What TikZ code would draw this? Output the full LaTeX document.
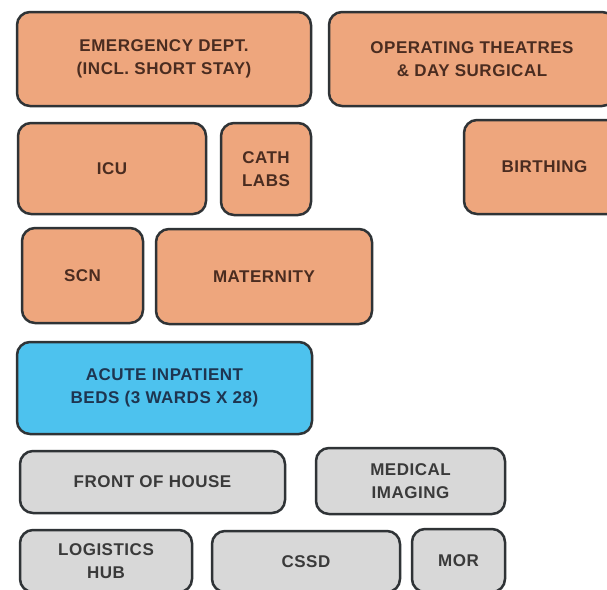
\documentclass[tikz,border=0pt]{standalone}
\usepackage{fontspec}
\newfontfamily\labfont[LetterSpace=3]{Liberation Sans}
\definecolor{orangefill}{HTML}{EEA67D}
\definecolor{bluefill}{HTML}{4DC2EE}
\definecolor{greyfill}{HTML}{D8D8D8}
\definecolor{edgecol}{HTML}{2F3336}
\definecolor{browntext}{HTML}{4A2C20}
\definecolor{navytext}{HTML}{1E3550}
\definecolor{greytext}{HTML}{3A3A3A}
\tikzset{
  box/.style={rectangle, rounded corners=13pt, draw=edgecol, line width=2.5pt,
    inner sep=0pt, align=center, font=\labfont\bfseries\fontsize{17}{23.5}\selectfont},
  obox/.style={box, fill=orangefill, text=browntext},
  bbox/.style={box, fill=bluefill, text=navytext},
  gbox/.style={box, fill=greyfill, text=greytext}
}
\begin{document}
\begin{tikzpicture}[x=1pt,y=-1pt]
\useasboundingbox (0,0) rectangle (607,589);
\fill[white] (0,0) rectangle (607,589);
\clip (0,0) rectangle (607,589);
\node[obox, minimum width=294pt, minimum height=94pt] (ed) at (164,59) {EMERGENCY DEPT.\\(INCL. SHORT STAY)};
\node[obox, minimum width=286pt, minimum height=94pt] (ot) at (472,59) {OPERATING THEATRES\\\& DAY SURGICAL};
\node[obox, minimum width=188pt, minimum height=91pt] (icu) at (112,168.5) {ICU};
\node[obox, minimum width=90pt, minimum height=92pt] (cath) at (266,169) {CATH\\LABS};
\node[obox, minimum width=161pt, minimum height=94pt] (birth) at (544.5,167) {BIRTHING};
\node[obox, minimum width=121pt, minimum height=95pt] (scn) at (82.5,275.5) {SCN};
\node[obox, minimum width=216pt, minimum height=95pt] (mat) at (264,276.5) {MATERNITY};
\node[bbox, minimum width=295pt, minimum height=92pt] (acute) at (164.5,388) {ACUTE INPATIENT\\BEDS (3 WARDS X 28)};
\node[gbox, minimum width=265pt, minimum height=62pt] (foh) at (152.5,482) {FRONT OF HOUSE};
\node[gbox, minimum width=189pt, minimum height=66pt] (med) at (410.5,481) {MEDICAL\\IMAGING};
\node[gbox, minimum width=172pt, minimum height=62pt] (log) at (106,561) {LOGISTICS\\HUB};
\node[gbox, minimum width=188pt, minimum height=61pt] (cssd) at (306,561.5) {CSSD};
\node[gbox, minimum width=93pt, minimum height=63pt] (mor) at (458.5,560.5) {MOR};
\end{tikzpicture}
\end{document}
